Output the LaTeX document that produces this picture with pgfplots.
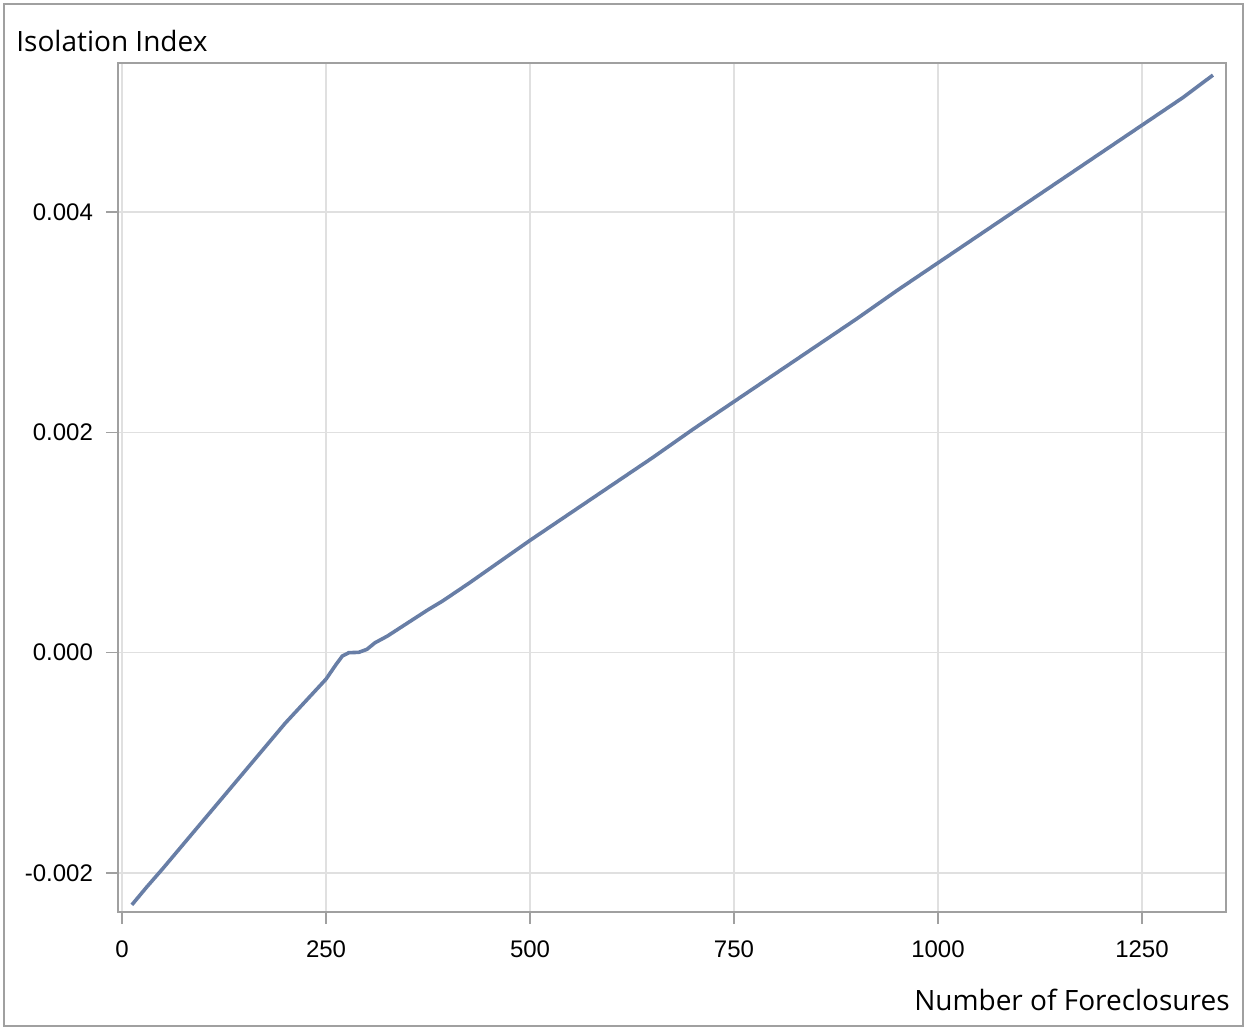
\documentclass[border=0pt]{standalone}
\usepackage{pgfplots}
\pgfplotsset{compat=1.18}
\usepackage{fontspec}
\setmainfont{Liberation Sans}
\newfontfamily\labelfont{Open Sans}
\definecolor{linecol}{RGB}{104,126,166}
\definecolor{gridcol}{RGB}{224,224,224}
\definecolor{framecol}{RGB}{160,160,160}
\begin{document}
\begin{tikzpicture}
\begin{axis}[
  name=ax,
  scale only axis,
  width=554pt, height=424.5pt,
  xmin=-5, xmax=1353,
  ymin=-0.002355, ymax=0.005355,
  xtick={0,250,500,750,1000,1250},
  ytick={-0.002,0,0.002,0.004},
  scaled y ticks=false,
  xticklabel style={/pgf/number format/set thousands separator={}, yshift=-5pt},
  yticklabel style={/pgf/number format/fixed,/pgf/number format/fixed zerofill,/pgf/number format/precision=3, xshift=-3pt},
  /pgf/number format/assume math mode=true,
  ticklabel style={font=\fontsize{12}{14}\selectfont, text=black},
  tick align=outside,
  major tick length=6pt,
  tick style={framecol, line width=0.8pt},
  axis line style={framecol, line width=0.8pt},
  xtick pos=bottom, ytick pos=left,
  grid=major,
  major grid style={gridcol, line width=0.8pt},
  clip=false,
]
\addplot[linecol, line width=1.8pt] coordinates {
(12,-0.00229) (30,-0.00213) (50,-0.00196) (75,-0.00174) (100,-0.00152) (125,-0.00130) (150,-0.00108) (175,-0.00086) (200,-0.00064) (225,-0.00044) (250,-0.00024) (262,-0.00011) (270,-0.00003) (278,0.0) (290,0.000003) (300,0.00003) (310,0.00009) (325,0.00015) (350,0.00027) (375,0.00039) (393,0.00047) (425,0.00063) (450,0.00076) (500,0.00102) (550,0.00127) (600,0.00152) (650,0.00177) (700,0.00203) (750,0.00228) (800,0.00253) (850,0.00278) (900,0.00303) (950,0.00329) (1000,0.00354) (1050,0.00379) (1100,0.00404) (1150,0.00429) (1200,0.00454) (1250,0.00479) (1300,0.00504) (1337,0.005245)
};
\end{axis}
\node[anchor=base west, inner sep=0pt, font=\labelfont\fontsize{14}{16}\selectfont] at ([xshift=-51pt,yshift=5.5pt]ax.north west) {Isolation Index};
\node[anchor=base east, inner sep=0pt, font=\labelfont\fontsize{14}{16}\selectfont] at ([xshift=2pt,yshift=-49pt]ax.south east) {Number of Foreclosures};
\draw[framecol, line width=1pt] ([xshift=-57pt,yshift=-57pt]ax.south west) rectangle ([xshift=8.5pt,yshift=29.5pt]ax.north east);
\path ([xshift=-59pt,yshift=-58.5pt]ax.south west) rectangle ([xshift=10.5pt,yshift=31.5pt]ax.north east);
\end{tikzpicture}
\end{document}
